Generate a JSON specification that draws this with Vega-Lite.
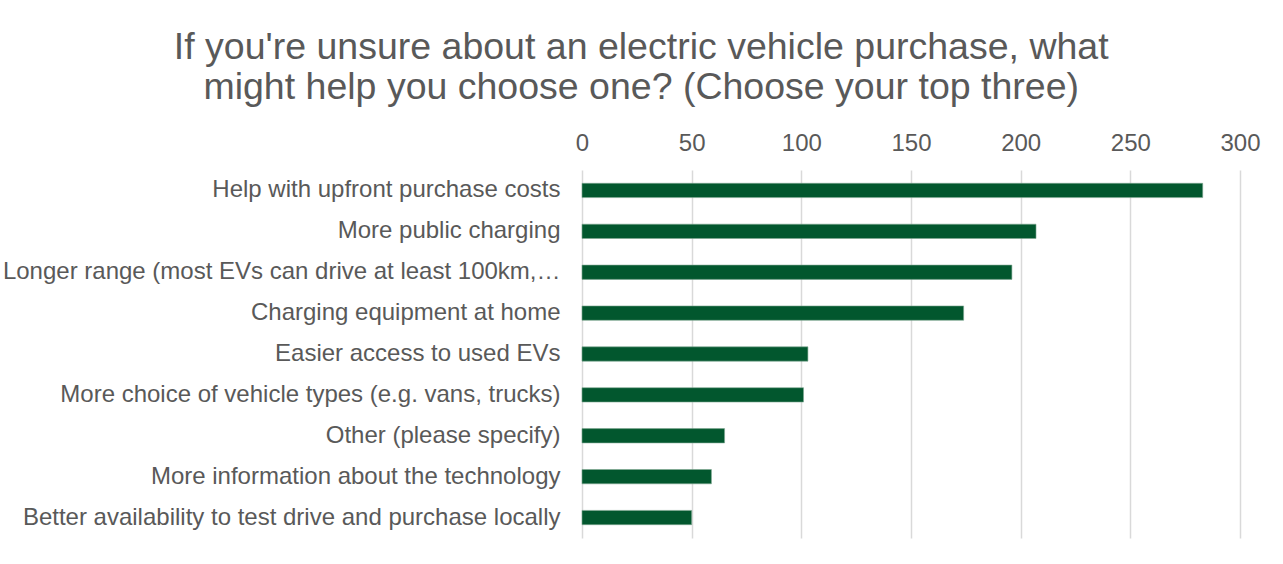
{
  "$schema": "https://vega.github.io/schema/vega-lite/v6.json",
  "autosize": {"type": "none"},
  "padding": {"left": 582, "top": 170, "right": 43, "bottom": 26},
  "width": 658,
  "height": 368,
  "background": "white",
  "title": {
    "text": ["If you're unsure about an electric vehicle purchase, what", "might help you choose one? (Choose your top three)"],
    "anchor": "middle",
    "frame": "bounds",
    "font": "Liberation Sans",
    "fontSize": 37.5,
    "fontWeight": "normal",
    "color": "#595959",
    "lineHeight": 40,
    "offset": 25,
    "dx": 10
  },
  "data": {
    "values": [
      {"option": "Help with upfront purchase costs", "count": 283},
      {"option": "More public charging", "count": 207},
      {"option": "Longer range (most EVs can drive at least 100km,…", "count": 196},
      {"option": "Charging equipment at home", "count": 174},
      {"option": "Easier access to used EVs", "count": 103},
      {"option": "More choice of vehicle types (e.g. vans, trucks)", "count": 101},
      {"option": "Other (please specify)", "count": 65},
      {"option": "More information about the technology", "count": 59},
      {"option": "Better availability to test drive and purchase locally", "count": 50}
    ]
  },
  "mark": {"type": "bar", "color": "#02572e", "stroke": "#7fa892", "strokeWidth": 0.6},
  "encoding": {
    "y": {
      "field": "option",
      "type": "nominal",
      "sort": null,
      "scale": {"paddingInner": 0.65, "paddingOuter": 0.325},
      "axis": {
        "title": null,
        "ticks": false,
        "domain": false,
        "labelPadding": 22,
        "labelLimit": 0,
        "labelFont": "Liberation Sans",
        "labelFontSize": 24,
        "labelColor": "#595959"
      }
    },
    "x": {
      "field": "count",
      "type": "quantitative",
      "scale": {"domain": [0, 300], "nice": false},
      "axis": {
        "orient": "top",
        "title": null,
        "values": [0, 50, 100, 150, 200, 250, 300],
        "ticks": false,
        "domain": false,
        "labelFlush": false,
        "labelOverlap": false,
        "labelPadding": 15,
        "labelFont": "Liberation Sans",
        "labelFontSize": 24,
        "labelColor": "#595959",
        "gridColor": "#d9d9d9",
        "gridWidth": 1.5
      }
    }
  },
  "config": {"view": {"stroke": null}}
}
